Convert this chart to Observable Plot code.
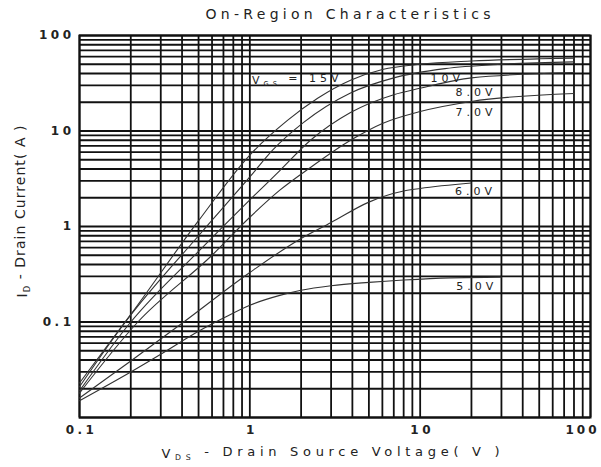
<!DOCTYPE html>
<html>
<head>
<meta charset="utf-8">
<script src="https://cdn.jsdelivr.net/npm/d3@7"></script>
<script src="https://cdn.jsdelivr.net/npm/@observablehq/plot@0.6"></script>
<style>
  html, body { margin: 0; padding: 0; background: #fff; }
  svg { overflow: visible; }
</style>
</head>
<body>
<div id="chart"></div>
<script>
// ---- data ----
const seriesNames = ["15V", "10V", "8.0V", "7.0V", "6.0V", "5.0V"];

const vds15 = [0.1, 0.2, 0.5, 1.0, 1.67, 2.5, 3.9, 6, 10, 20, 50, 80];
const id15  = [0.023, 0.12, 1.15, 5.6, 13, 22, 34, 44, 50, 54, 57, 58];

const vds10 = [0.1, 0.186, 0.5, 1.0, 1.36, 2.07, 3.9, 7, 14, 30, 80];
const id10  = [0.021, 0.1, 0.8, 3.3, 6.3, 12.3, 25, 36, 45, 50, 53];

const vds8 = [0.1, 0.2, 0.5, 1.0, 1.5, 2.27, 3.9, 7, 10, 20, 80];
const id8  = [0.019, 0.1, 0.55, 1.9, 3.85, 8.0, 15.6, 24, 28, 36, 41];

const vds7 = [0.1, 0.22, 0.6, 1.0, 1.5, 2.27, 3.9, 6, 10, 20, 80];
const id7  = [0.018, 0.1, 0.5, 1.25, 2.4, 4.15, 8, 12, 16, 20.4, 24.7];

const vds6 = [0.1, 0.2, 0.4, 1.0, 2.0, 3.0, 5.0, 8.0, 10, 20];
const id6  = [0.016, 0.039, 0.097, 0.33, 0.75, 1.1, 1.8, 2.35, 2.5, 2.85];

const vds5 = [0.1, 0.2, 0.3, 0.5, 0.7, 1.0, 1.5, 2.0, 3.0, 5.0, 8.0, 15, 30];
const id5  = [0.015, 0.03, 0.046, 0.08, 0.11, 0.15, 0.19, 0.215, 0.24, 0.26, 0.275, 0.29, 0.295];

const labelText = ["VGS = 15V", "10V", "8.0V", "7.0V", "6.0V", "5.0V"];
const labelX    = [1.03, 11.5, 16.1, 16.1, 16.0, 16.3];
const labelY    = [34, 35.4, 25.3, 15.6, 2.3, 0.235];

const xTickValues = [0.1, 1, 10];
const xLastTick = [100];
const yTickValues = [0.1, 1, 10, 100];
const xDecades = [0.1, 1, 10];
const yDecades = [0.01, 0.1, 1, 10];
const mantissas = [1, 2, 3, 4, 5, 6, 7, 8, 9];

const titleText = "On-Region Characteristics";
const xLabelText = "VDS - Drain Source Voltage( V )";
const yLabelText = "ID - Drain Current( A )";

// ---- tables built from the arrays ----
const allVds = [vds15, vds10, vds8, vds7, vds6, vds5];
const allId = [id15, id10, id8, id7, id6, id5];
const rows = seriesNames.flatMap((s, k) => allVds[k].map((v, j) => ({s, v, i: allId[k][j]})));
const labels = labelText.map((t, k) => ({t, x: labelX[k], y: labelY[k]}));
const xGrid = xDecades.flatMap(d => mantissas.map(m => d * m)).concat([100]);
const yGrid = yDecades.flatMap(d => mantissas.map(m => d * m)).concat([100]);

const tickOpts = {tickSize: 0, fontSize: 12, fontWeight: "bold", fill: "#222", tickFormat: d => d.toString(), label: null};

const chart = Plot.plot({
  width: 601,
  height: 467,
  marginTop: 35,
  marginLeft: 79,
  marginRight: 11,
  marginBottom: 50,
  x: {type: "log", domain: [0.1, 100], axis: null},
  y: {type: "log", domain: [0.01, 100], axis: null},
  style: {fontFamily: "'DejaVu Sans', Verdana, sans-serif", background: "#fff", color: "#222", overflow: "visible"},
  marks: [
    Plot.gridX(xGrid, {stroke: "#111", strokeOpacity: 1, strokeWidth: 1.8}),
    Plot.gridY(yGrid, {stroke: "#111", strokeOpacity: 1, strokeWidth: 1.8}),
    Plot.frame({stroke: "#111", strokeWidth: 2}),
    Plot.line(rows, {x: "v", y: "i", z: "s", curve: "monotone-x", stroke: "#333", strokeWidth: 1.1}),
    Plot.text(labels, {x: "x", y: "y", text: "t", textAnchor: "start", fontSize: 11, fill: "#222"}),
    Plot.axisX(xTickValues, {...tickOpts, tickPadding: 8, dx: 2}),
    Plot.axisX(xLastTick, {...tickOpts, tickPadding: 8, dx: -8}),
    Plot.axisY(yTickValues, {...tickOpts, tickPadding: 5}),
    Plot.text([titleText], {frameAnchor: "top", lineAnchor: "middle", textAnchor: "middle", text: d => d, dy: -21, dx: 13, fontSize: 14, fill: "#222"}),
    Plot.text([xLabelText], {frameAnchor: "bottom", lineAnchor: "middle", textAnchor: "middle", text: d => d, dy: 36, dx: -4.5, fontSize: 13, fill: "#222"}),
    Plot.text([yLabelText], {frameAnchor: "left", lineAnchor: "middle", textAnchor: "middle", text: d => d, rotate: -90, dx: -57, dy: -15, fontSize: 14, fill: "#222"})
  ]
});

document.getElementById("chart").appendChild(chart);

// letter spacing like the reference, and subscripts
const ns = "http://www.w3.org/2000/svg";
function subscript(el, head, sub, tail) {
  el.textContent = "";
  const a = document.createElementNS(ns, "tspan"); a.textContent = head; el.appendChild(a);
  const b = document.createElementNS(ns, "tspan"); b.textContent = sub;
  b.setAttribute("font-size", "0.6em"); b.setAttribute("dy", "0.3em"); el.appendChild(b);
  const c = document.createElementNS(ns, "tspan"); c.textContent = tail; c.setAttribute("dy", "-0.3em"); el.appendChild(c);
}
function fit(el, len) {
  el.setAttribute("textLength", len);
  el.setAttribute("lengthAdjust", "spacing");
}
chart.querySelectorAll("text").forEach(t => {
  const s = t.textContent;
  const parentLabel = t.parentNode.getAttribute("aria-label") || "";
  if (s === titleText) fit(t, 285);
  else if (s === xLabelText) fit(t, 338);
  else if (s === yLabelText) fit(t, 172);
  else if (labelText.includes(s)) t.style.letterSpacing = "4px";
  else if (s === "100" && parentLabel.startsWith("x")) t.style.letterSpacing = "3px";
  else if (parentLabel.includes("tick label")) t.style.letterSpacing = "3.5px";
  if (s.startsWith("VGS")) subscript(t, "V", "GS", s.slice(3));
  else if (s.startsWith("VDS")) subscript(t, "V", "DS", s.slice(3));
  else if (s.startsWith("ID ")) subscript(t, "I", "D", s.slice(2));
});
</script>
</body>
</html>
